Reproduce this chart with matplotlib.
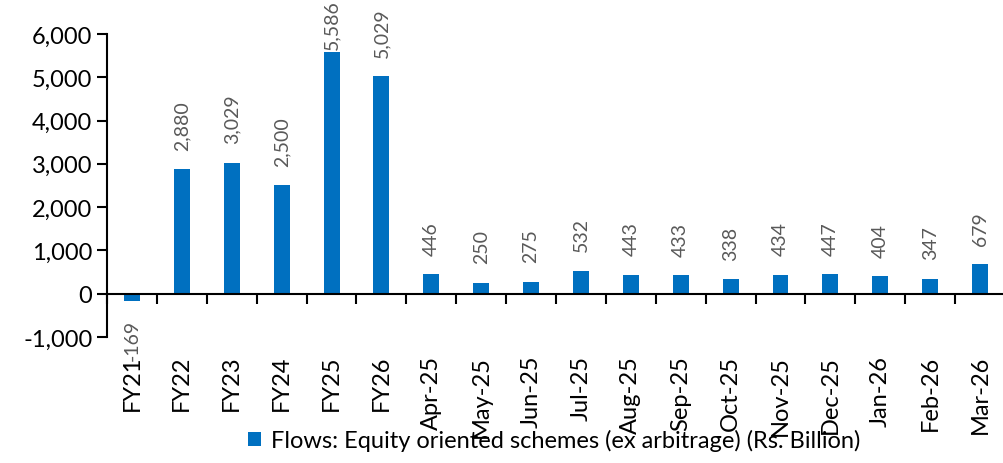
import matplotlib
matplotlib.use("Agg")
import matplotlib.pyplot as plt
from matplotlib.ticker import FuncFormatter

categories = ["FY21", "FY22", "FY23", "FY24", "FY25", "FY26",
              "Apr-25", "May-25", "Jun-25", "Jul-25", "Aug-25", "Sep-25",
              "Oct-25", "Nov-25", "Dec-25", "Jan-26", "Feb-26", "Mar-26"]
flows = [-169, 2880, 3029, 2500, 5586, 5029,
         446, 250, 275, 532, 443, 433,
         338, 434, 447, 404, 347, 679]
series_name = "Flows: Equity oriented schemes (ex arbitrage) (Rs. Billion)"
yticks = [-1000, 0, 1000, 2000, 3000, 4000, 5000, 6000]

plt.rcParams["font.family"] = ["Lato", "DejaVu Sans"]

DPI = 100
fig = plt.figure(figsize=(10.04, 4.64), dpi=DPI)
ax = fig.add_axes([0.1066, 0.2716, 0.8944, 0.653])

x = list(range(len(categories)))
bars = ax.bar(x, flows, width=0.32, color="#0070C0", label=series_name, zorder=2)

labels = []
for xi, v in zip(x, flows):
    off = 14 if v >= 0 else -13
    ann = ax.annotate(f"{v:,}", (xi, v), xytext=(0, off), textcoords="offset points",
                      rotation=90, ha="center", va="bottom" if v >= 0 else "top",
                      fontsize=14, color="#595959", annotation_clip=False)
    labels.append((ann, off))

ax.set_xlim(-0.5, len(categories) - 0.5)
ax.set_ylim(-1000, 6000)
ax.set_yticks(yticks)
ax.yaxis.set_major_formatter(FuncFormatter(lambda v, p: f"{int(v):,}"))
ax.tick_params(axis="y", labelsize=17, length=7, width=1.5, direction="out", pad=3.5)

for s in ["top", "right"]:
    ax.spines[s].set_visible(False)
ax.spines["bottom"].set_position(("data", 0))
ax.spines["bottom"].set_linewidth(1.5)
ax.spines["left"].set_linewidth(1.5)

# tick marks sit on the category boundaries, labels below the plot area
ax.set_xticks([i - 0.5 for i in x] + [len(x) - 0.5], minor=True)
ax.tick_params(axis="x", which="minor", length=7, width=1.5, direction="out")
ax.set_xticks(x, categories, rotation=90, fontsize=17, va="top")
ax.tick_params(axis="x", which="major", length=0, pad=44)

fig.legend(handles=[bars], labels=[series_name], loc="lower center",
           bbox_to_anchor=(0.552, -0.02), frameon=False, fontsize=17,
           handlelength=0.55, handleheight=0.55, handletextpad=0.4)

# pull value labels that run past the top of the figure back inside
fig.canvas.draw()
renderer = fig.canvas.get_renderer()
top = fig.bbox.y1
for ann, off in labels:
    bb = ann.get_window_extent(renderer)
    if bb.y1 > top:
        ann.xyann = (0, off - (bb.y1 - top) * 72 / DPI)

fig.savefig("out.png", dpi=DPI)
